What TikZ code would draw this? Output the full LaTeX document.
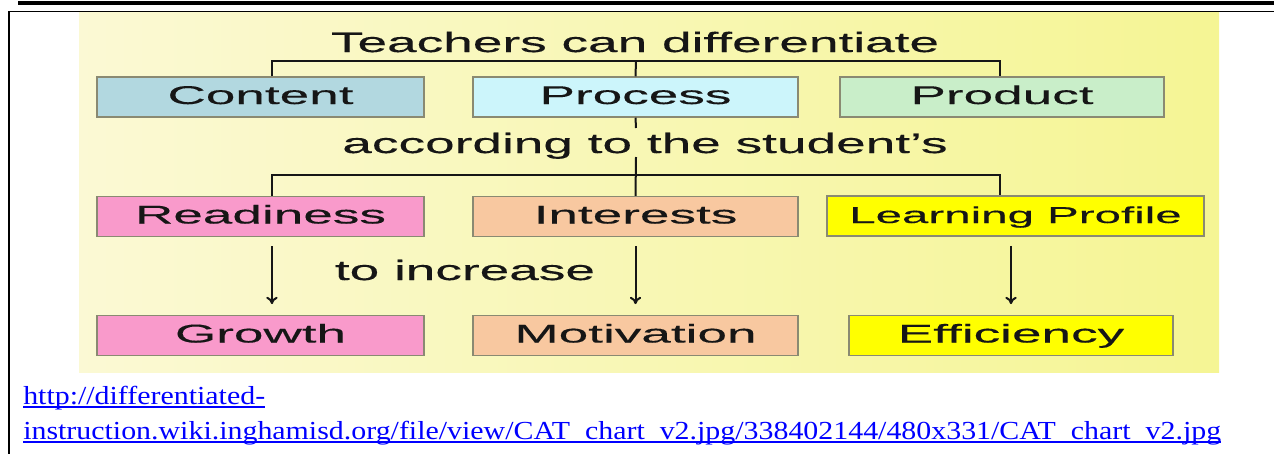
\documentclass[tikz,border=0pt]{standalone}
\usepackage{fontspec}
\usetikzlibrary{arrows.meta}
\newfontfamily\chartfont[FakeStretch=1.9, FakeBold=0.3]{Liberation Sans}
\newfontfamily\cellfont[FakeStretch=2.07, FakeBold=0.3]{Liberation Sans}
\newfontfamily\linkfont[FakeStretch=1.15]{Liberation Serif}
\definecolor{diink}{HTML}{161616}
\definecolor{diedge}{HTML}{8A8A72}
\definecolor{dicontent}{HTML}{B2D8E0}
\definecolor{diprocess}{HTML}{CCF5FB}
\definecolor{diproduct}{HTML}{C9EEC9}
\definecolor{dipink}{HTML}{F99ACB}
\definecolor{dipeach}{HTML}{F8C8A0}
\definecolor{diyellow}{HTML}{FFFF00}
\definecolor{dipaleleft}{HTML}{FBF9D4}
\definecolor{dipaleright}{HTML}{F5F594}
\definecolor{dilink}{HTML}{0000FF}

\begin{document}
\begin{tikzpicture}[x=0.75pt, y=-0.75pt,
    every node/.style={inner sep=0pt, text=diink},
    cell/.style={rectangle, draw=diedge, line width=1.1pt, minimum width=244pt, minimum height=30pt, text height=13.8pt, text depth=3.3pt, font=\cellfont\fontsize{19.25}{22}\selectfont},
    chartlabel/.style={anchor=base, font=\chartfont\fontsize{21}{24}\selectfont},
    urlline/.style={anchor=base west, text=dilink, font=\linkfont\fontsize{19.5}{22}\selectfont},
    wire/.style={draw=diink, line width=1.5pt},
    arr/.style={wire, -{To[length=5.5pt,width=8.5pt]}, shorten <=6.8pt, shorten >=8pt}]
    \useasboundingbox (0,0) rectangle (1274,454);

    % page frame and chart background
    \draw[line width=2.6pt] (18,3) -- (1274,3);
    \draw[line width=1.1pt] (8,11.5) -- (1274,11.5);
    \draw[line width=1.8pt] (9,11.5) -- (9,454);
    \shade[left color=dipaleleft, right color=dipaleright] (79,12.5) rectangle (1219,372);

    \node[chartlabel] (head) at (635,52) {Teachers can differentiate};
    \node[cell, fill=dicontent, minimum width=245pt] (content) at (260.5,97) {Content};
    \node[cell, fill=diprocess] (process) at (635.5,97) {Process};
    \node[cell, fill=diproduct, minimum width=243pt] (product) at (1002,97) {Product};

    \node[chartlabel] (according) at (645,153) {according to the student’s};
    \node[cell, fill=dipink, minimum width=245pt] (readiness) at (260.5,216.5) {Readiness};
    \node[cell, fill=dipeach] (interests) at (635.5,216.5) {Interests};
    \node[cell, fill=diyellow, minimum width=283pt, font=\cellfont\fontsize{17.2}{20}\selectfont] (profile) at (1015.5,216) {Learning Profile};

    \node[chartlabel] (increase) at (465,280) {to increase};
    \node[cell, fill=dipink, minimum width=245pt] (growth) at (260.5,335.5) {Growth};
    \node[cell, fill=dipeach] (motivation) at (635.5,335.5) {Motivation};
    \node[cell, fill=diyellow, minimum width=243pt] (efficiency) at (1011,335.5) {Efficiency};

    % brackets
    \coordinate (bar1) at (636,61);
    \coordinate (tick1) at (636,128);
    \coordinate (drop2) at (636,157);
    \coordinate (bar2) at (636,175);
    \draw[wire] ([xshift=8.6pt]content.north) |- (bar1) -| ([xshift=-1.5pt]product.north);
    \draw[wire] (bar1) -- (process.north);
    \draw[wire] (process.south) -- (tick1);
    \draw[wire] (drop2) -- (interests.north);
    \draw[wire] ([xshift=8.6pt]readiness.north) |- (bar2) -| ([xshift=-11.6pt]profile.north);

    % arrows
    \draw[arr] ([xshift=8.6pt]readiness.south) -- ([xshift=8.6pt]growth.north);
    \draw[arr] (interests.south) -- (motivation.north);
    \draw[arr] (profile.south -| efficiency.north) -- (efficiency.north);

    % source line
    \node[urlline] (url1) at (23,404) {http://differentiated-};
    \node[urlline] (url2) at (23,439) {instruction.wiki.inghamisd.org/file/view/CAT\_chart\_v2.jpg/338402144/480x331/CAT\_chart\_v2.jpg};
    \draw[dilink, line width=0.9pt] ([yshift=-2.3pt]url1.base west) -- ([yshift=-2.3pt]url1.base east);
    \draw[dilink, line width=0.9pt] ([yshift=-2.3pt]url2.base west) -- ([yshift=-2.3pt]url2.base east);
\end{tikzpicture}
\end{document}
